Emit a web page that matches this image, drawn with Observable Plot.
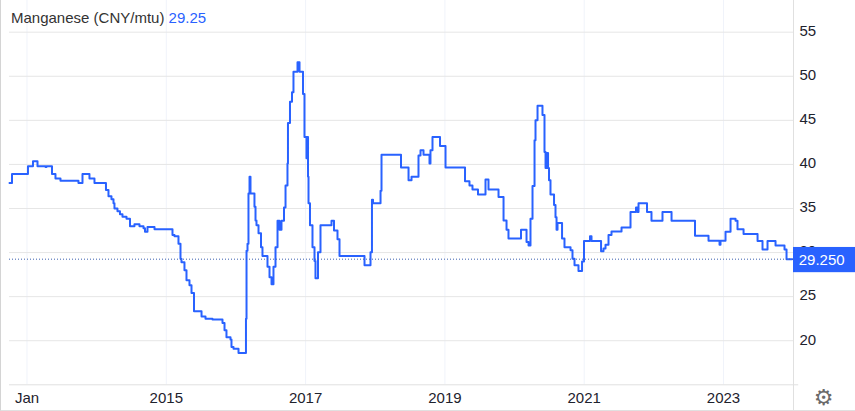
<!DOCTYPE html>
<html>
<head>
<meta charset="utf-8">
<script src="https://cdn.jsdelivr.net/npm/d3@7"></script>
<script src="https://cdn.jsdelivr.net/npm/@observablehq/plot@0.6"></script>
<style>
html,body{margin:0;padding:0;background:#fff;overflow:hidden}
#wrap{position:relative;width:855px;height:411px;font-family:"Liberation Sans",Arial,sans-serif}
#title{position:absolute;left:11px;top:9px;font-size:15px;line-height:18px;color:#333;white-space:nowrap}
#title span{color:#2962ff}
#frame{position:absolute;left:0;top:0;width:854px;height:410px;border-left:1px solid #d4d4d4;border-bottom:1px solid #e0e0e0;box-sizing:content-box;width:854px;pointer-events:none}
svg{display:block}
</style>
</head>
<body>
<div id="wrap"><div id="chart"></div><div id="frame"></div><div id="title">Manganese (CNY/mtu) <span>29.25</span></div></div>
<script>
const seriesName = "Manganese (CNY/mtu)";
const lastValue = 29.25;
const years = [2012.749,2012.785,2013.014,2013.086,2013.151,2013.266,2013.280,2013.359,2013.409,2013.481,2013.739,2013.797,2013.897,2013.969,
2014.134,2014.170,2014.213,2014.242,2014.256,2014.299,2014.335,2014.371,2014.429,2014.479,2014.543,2014.615,2014.673,2014.694,2014.730,2014.831,
2015.089,2015.118,2015.175,2015.204,2015.218,2015.261,2015.290,2015.333,2015.362,2015.398,2015.506,2015.563,2015.663,2015.807,2015.836,2015.864,2015.922,2015.936,2015.965,
2016.037,2016.144,2016.152,2016.166,2016.180,2016.195,2016.209,2016.223,2016.266,2016.281,2016.295,2016.324,2016.360,2016.381,2016.453,2016.482,2016.511,2016.539,2016.568,2016.597,2016.625,2016.654,2016.690,2016.712,2016.740,2016.747,2016.776,2016.805,2016.826,2016.884,2016.913,2016.963,2016.984,
2017.013,2017.020,2017.035,2017.042,2017.063,2017.099,2017.128,2017.142,2017.178,2017.193,2017.214,2017.372,2017.408,2017.458,2017.487,2017.501,2017.846,2017.932,2017.953,2017.968,
2018.076,2018.090,2018.370,2018.478,2018.521,2018.621,2018.650,2018.693,2018.779,2018.793,2018.822,2018.930,
2019.009,2019.289,2019.353,2019.396,2019.475,2019.583,2019.626,2019.770,2019.842,2019.885,2019.913,
2020.093,2020.172,2020.201,2020.229,2020.258,2020.287,2020.301,2020.330,2020.401,2020.430,2020.445,2020.466,2020.481,2020.495,2020.516,2020.567,2020.588,2020.603,2020.617,2020.682,2020.717,2020.804,2020.832,2020.861,2020.918,2020.969,2020.997,
2021.083,2021.105,2021.242,2021.277,2021.306,2021.349,2021.392,2021.536,2021.665,2021.744,2021.766,2021.780,2021.902,2021.966,
2022.124,2022.254,2022.591,2022.785,2022.943,2022.957,
2023.029,2023.101,2023.173,2023.201,2023.288,2023.489,2023.560,2023.632,2023.747,2023.876,2023.905,2023.984];
const prices = [37.9,38.9,39.8,40.35,39.8,39.7,39.8,38.9,38.4,38.15,37.9,38.9,38.4,37.9,
37.1,36.4,36.05,35.6,35.0,34.7,34.35,34.05,33.85,33.0,33.2,33.0,32.75,32.35,32.9,32.65,
32.0,31.85,31.0,29.3,28.9,28.0,26.85,26.3,25.4,23.35,22.75,22.5,22.4,22.0,21.2,20.4,20.15,19.3,19.1,
18.6,22.5,30.2,31.0,36.7,38.6,36.7,36.7,35.2,33.65,33.1,32.2,30.6,29.6,28.4,27.2,26.4,28.4,30.6,33.6,32.6,33.6,35.1,37.6,40.1,44.7,47.1,48.2,50.5,51.6,50.5,48.0,43.1,
40.7,43.1,38.6,35.6,33.1,30.6,29.05,27.1,30.05,30.05,33.1,33.6,32.5,31.5,29.6,29.6,28.55,30.05,36.0,35.6,
37.0,41.1,39.65,38.2,38.6,41.0,41.6,41.1,40.1,41.6,43.1,42.1,
39.65,38.1,37.6,37.15,36.6,38.3,37.15,36.3,33.65,32.6,31.6,
32.6,31.2,30.8,33.85,37.55,42.75,45.0,46.65,45.6,41.4,39.6,41.3,39.6,38.2,36.6,35.4,34.0,32.6,33.35,31.6,30.6,30.25,29.3,28.55,27.9,29.0,31.3,
31.85,31.3,30.15,30.45,30.9,32.0,32.4,32.85,34.6,35.1,34.6,35.6,34.6,33.6,
34.6,33.6,31.9,31.35,30.9,31.35,
32.35,33.85,33.6,32.65,32.1,31.3,30.35,31.3,30.8,30.35,29.25,29.25];
const yTicks = [20,25,30,35,40,45,50,55];
const xTicks = [2013,2015,2017,2019,2021,2023];
const xLabels = ["Jan","2015","2017","2019","2021","2023"];
const data = years.map((year,i)=>({year,price:prices[i]}));

const chart = Plot.plot({
  width:855, height:411,
  marginTop:31.7, marginBottom:26.7, marginLeft:9, marginRight:62,
  style:{background:"#fff",fontFamily:"'Liberation Sans',Arial,sans-serif",fontSize:"15px",overflow:"visible"},
  x:{type:"linear",domain:[2012.749,2024.005]},
  y:{type:"linear",domain:[15,55]},
  marks:[
    Plot.ruleX(xTicks,{y1:15,y2:58.6,stroke:"#f0f3fa",strokeWidth:1}),
    Plot.ruleY(yTicks,{stroke:"#e6e6e6",strokeWidth:1}),
    Plot.ruleY([15],{x1:2012.749,x2:2024.08,stroke:"#e0e0e0",strokeWidth:1}),
    Plot.ruleX([2024.005],{y1:12,y2:58.6,stroke:"#e0e0e0",strokeWidth:1}),
    Plot.line(data,{x:"year",y:"price",curve:"step-after",stroke:"#2962ff",strokeWidth:2,strokeLinejoin:"round"}),
    Plot.ruleY([lastValue],{stroke:"#3a5fb0",strokeWidth:1,strokeDasharray:"1,2"}),
    Plot.axisY(yTicks,{anchor:"right",tickSize:0,tickPadding:6,label:null,color:"#1e222d",fontSize:15,dy:-1}),
    Plot.axisX(xTicks,{anchor:"bottom",tickSize:0,tickPadding:8,label:null,color:"#1e222d",fontSize:15,tickFormat:(d,i)=>xLabels[i]}),
    Plot.rect([lastValue],{x1:2024.005,x2:2024.9,y1:27.72,y2:30.58,fill:"#2962ff"}),
    Plot.text([lastValue],{x:2024.08,y:d=>d,dy:1,text:d=>d.toFixed(3),fill:"#fff",textAnchor:"start",fontSize:15}),
    Plot.text(["\u2699"],{frameAnchor:"bottom-right",dx:40,dy:20,fontSize:22,fill:"#6b6b6b",fontFamily:"DejaVu Sans"})
  ]
});
document.getElementById("chart").append(chart);
</script>
</body>
</html>
